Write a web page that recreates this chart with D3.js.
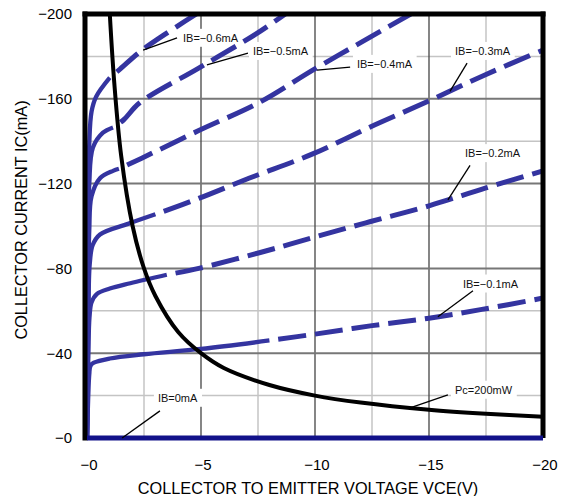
<!DOCTYPE html>
<html>
<head>
<meta charset="utf-8">
<script src="https://cdn.jsdelivr.net/npm/d3@7"></script>
<style>
  body { margin: 0; background: #fff; }
  svg { display: block; font-family: "Liberation Sans", Arial, sans-serif; }
</style>
</head>
<body>
<svg width="563" height="496"></svg>
<script>
// values, [VCE (V), IC (mA)]
const xTicks = [0, -5, -10, -15, -20];
const yTicks = [0, -40, -80, -120, -160, -200];
const xMinor = [-2.5, -7.5, -12.5, -17.5];
const yMinor = [-20, -60, -100, -140, -180];

const ib01Solid = [[0,0],[-0.05,-18],[-0.1,-30],[-0.15,-34],[-0.3,-35.5],[-1,-37.5],[-2.5,-39.5],[-5,-42],[-8,-46]];
const ib01Dash  = [[-8,-46],[-10,-49],[-12.5,-53],[-15,-56.5],[-17.5,-61],[-20,-66]];

const ib02Solid = [[0,0],[-0.06,-40],[-0.11,-57],[-0.2,-64],[-0.44,-68],[-1,-70.5],[-1.9,-73],[-3.5,-77]];
const ib02Dash  = [[-3.5,-77],[-4.9,-80],[-7.6,-87.5],[-9.9,-94.5],[-12.4,-102],[-15,-109.5],[-17.5,-118],[-20,-126]];

const ib03Solid = [[0,0],[-0.06,-55],[-0.12,-82],[-0.25,-91],[-0.57,-96],[-1.8,-101],[-3,-105.5]];
const ib03Dash  = [[-3,-105.5],[-4.9,-113],[-7.1,-122.5],[-9.9,-134],[-12.4,-146.6],[-15,-159],[-17.5,-171.5],[-20,-183]];

const ib04Solid = [[0,0],[-0.05,-60],[-0.1,-98],[-0.2,-114],[-0.57,-122.5],[-1.14,-126],[-1.4,-127]];
const ib04Dash  = [[-1.4,-127],[-2.4,-132],[-4.9,-145],[-7.6,-158.5],[-9.9,-173.5],[-12,-186.5],[-14.2,-200]];

const ib05Solid = [[0,0],[-0.05,-80],[-0.1,-120],[-0.26,-137],[-0.7,-144],[-1.14,-146.5]];
const ib05Dash  = [[-1.14,-146.5],[-1.6,-150],[-2.3,-158],[-4.9,-174.5],[-7.4,-190.5],[-8.7,-200]];

const ib06Solid = [[0,0],[-0.05,-100],[-0.1,-139],[-0.2,-154],[-0.4,-161],[-1,-170]];
const ib06Dash  = [[-1,-170],[-1.45,-174],[-2.3,-182],[-3.5,-191],[-4.8,-200]];

const ib0 = [[0,0],[-20,0]];

const pcCurve = [[-0.9,-222],[-1,-200],[-1.2,-167],[-1.5,-133],[-2,-100],[-2.5,-80],[-3,-67],[-4,-50],
                 [-5,-40],[-6,-33],[-8,-25],[-10,-20],[-12,-16.7],[-15,-13.3],[-17.5,-11.4],[-20,-10]];

// label text, label spot, pointer start, pointer end
const labels = [
  {t: 'IB=\u22120.6mA', at: [-4.21,-188.7], p0: [-3.95,-188.7], p1: [-2.46,-183]},
  {t: 'IB=\u22120.5mA', at: [-7.28,-182.5], p0: [-7.06,-181.6], p1: [-5.26,-176]},
  {t: 'IB=\u22120.4mA', at: [-11.84,-176.4], p0: [-11.54,-174.9], p1: [-10.09,-173.5]},
  {t: 'IB=\u22120.3mA', at: [-16.14,-182.5], p0: [-16.67,-176.8], p1: [-15.92,-163.5]},
  {t: 'IB=\u22120.2mA', at: [-16.58,-134.3], p0: [-16.8,-128.6], p1: [-15.83,-112.3]},
  {t: 'IB=\u22120.1mA', at: [-16.49,-72.8], p0: [-16.93,-69.5], p1: [-15.39,-57.2]},
  {t: 'Pc=200mW', at: [-16.14,-22.7], p0: [-15.83,-20.3], p1: [-14.17,-14.2]},
  {t: 'IB=0mA', at: [-3.11,-18.9], p0: [-3.2,-12.8], p1: [-1.54,0]}
];

const svg = d3.select('svg');

const x = d3.scaleLinear().domain([0, -20]).range([87, 543]);
const y = d3.scaleLinear().domain([0, -200]).range([438, 14]);

const fmt = d => d === 0 ? '\u22120' : '\u2212' + Math.abs(d);

svg.append('defs').append('clipPath').attr('id', 'plot')
  .append('rect')
  .attr('x', x(0)).attr('y', y(-200))
  .attr('width', x(-20) - x(0)).attr('height', y(0) - y(-200));

const grid = svg.append('g');

// minor grid
grid.selectAll('.vm').data(xMinor).join('line')
  .attr('x1', d => x(d)).attr('x2', d => x(d))
  .attr('y1', y(-200)).attr('y2', y(0))
  .attr('stroke', '#c4c4c4').attr('stroke-width', 1.5);
grid.selectAll('.hm').data(yMinor).join('line')
  .attr('x1', x(0)).attr('x2', x(-20))
  .attr('y1', d => y(d)).attr('y2', d => y(d))
  .attr('stroke', '#c4c4c4').attr('stroke-width', 1.5);

// major grid
grid.selectAll('.vM').data(xTicks.slice(1, -1)).join('line')
  .attr('x1', d => x(d)).attr('x2', d => x(d))
  .attr('y1', y(-200)).attr('y2', y(0))
  .attr('stroke', '#444').attr('stroke-width', 1.3);
grid.selectAll('.hM').data(yTicks.slice(1, -1)).join('line')
  .attr('x1', x(0)).attr('x2', x(-20))
  .attr('y1', d => y(d)).attr('y2', d => y(d))
  .attr('stroke', '#777').attr('stroke-width', 2);

// label boxes (cover grid)
const boxG = svg.append('g');

const line = d3.line()
  .x(d => x(d[0])).y(d => y(d[1]))
  .curve(d3.curveCatmullRom.alpha(0.5));

const curvesG = svg.append('g').attr('clip-path', 'url(#plot)');

const solids = [ib01Solid, ib02Solid, ib03Solid, ib04Solid, ib05Solid, ib06Solid];
const dashes = [ib01Dash, ib02Dash, ib03Dash, ib04Dash, ib05Dash, ib06Dash];

curvesG.selectAll('.solid').data(solids).join('path')
  .attr('d', line)
  .attr('fill', 'none')
  .attr('stroke', '#3434a0')
  .attr('stroke-width', 4.3);

curvesG.selectAll('.dash').data(dashes).join('path')
  .attr('d', line)
  .attr('fill', 'none')
  .attr('stroke', '#3434a0')
  .attr('stroke-width', 5)
  .attr('stroke-dasharray', '28,9')
  .attr('stroke-dashoffset', -9);

// Pc curve
curvesG.append('path')
  .attr('d', line(pcCurve))
  .attr('fill', 'none')
  .attr('stroke', '#000')
  .attr('stroke-width', 4);

// frame
svg.append('line')
  .attr('x1', x(0) - 2).attr('x2', x(0) - 2)
  .attr('y1', y(-200) - 2.5).attr('y2', y(0) + 2.5)
  .attr('stroke', '#000').attr('stroke-width', 5);
svg.append('line')
  .attr('x1', x(0) - 4.5).attr('x2', x(-20) + 2.5)
  .attr('y1', y(-200)).attr('y2', y(-200))
  .attr('stroke', '#000').attr('stroke-width', 5);
svg.append('line')
  .attr('x1', x(-20)).attr('x2', x(-20))
  .attr('y1', y(-200) - 2.5).attr('y2', y(0))
  .attr('stroke', '#000').attr('stroke-width', 5);

// IB = 0 line along the bottom
svg.append('path')
  .attr('d', d3.line().x(d => x(d[0])).y(d => y(d[1]))(ib0))
  .attr('fill', 'none')
  .attr('stroke', '#12128a')
  .attr('stroke-width', 5);

// labels
const labG = svg.append('g');
labels.forEach(l => {
  labG.append('line')
    .attr('x1', x(l.p0[0])).attr('y1', y(l.p0[1]))
    .attr('x2', x(l.p1[0])).attr('y2', y(l.p1[1]))
    .attr('stroke', '#000').attr('stroke-width', 1.3);
  const t = labG.append('text')
    .attr('x', x(l.at[0])).attr('y', y(l.at[1]))
    .attr('dy', '0.35em')
    .attr('font-size', 11)
    .attr('fill', '#111')
    .text(l.t);
  const b = t.node().getBBox();
  boxG.append('rect')
    .attr('x', b.x - 4).attr('y', b.y - 3)
    .attr('width', b.width + 8).attr('height', b.height + 6)
    .attr('fill', '#fff');
});

// tick labels
svg.append('g').selectAll('text').data(xTicks).join('text')
  .attr('x', d => x(d) + 2).attr('y', 470)
  .attr('text-anchor', 'middle')
  .attr('font-size', 15)
  .text(fmt);

svg.append('g').selectAll('text').data(yTicks).join('text')
  .attr('x', 72).attr('y', d => y(d))
  .attr('dy', '0.36em')
  .attr('text-anchor', 'end')
  .attr('font-size', 15)
  .text(fmt);

// axis titles
svg.append('text')
  .attr('x', 308).attr('y', 494)
  .attr('text-anchor', 'middle')
  .attr('font-size', 16.3)
  .text('COLLECTOR TO EMITTER VOLTAGE VCE(V)');

svg.append('text')
  .attr('transform', 'translate(27,220) rotate(-90)')
  .attr('text-anchor', 'middle')
  .attr('font-size', 16.3)
  .text('COLLECTOR CURRENT IC(mA)');
</script>
</body>
</html>
